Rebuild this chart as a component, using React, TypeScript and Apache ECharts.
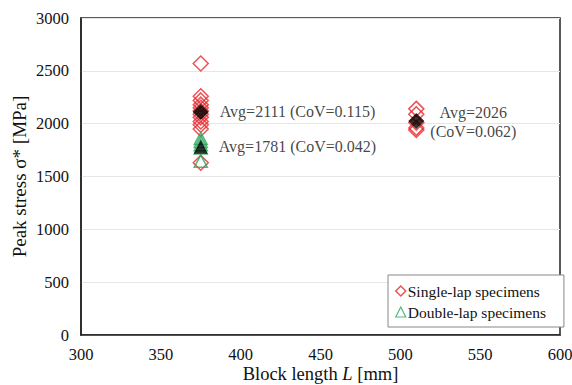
import React, { useEffect, useRef } from "react";
import * as echarts from "echarts";

const singleLapL375: number[] = [2570, 2260, 2220, 2180, 2150, 2120, 2090, 2060, 2020, 1990, 1950, 1630];
const singleLapL510: number[] = [2140, 2090, 2010, 1960, 1940];
const doubleLapL375: number[] = [1860, 1830, 1800, 1770, 1645];
const avgSingle375 = 2111;
const avgDouble375 = 1781;
const avgSingle510 = 2026;
const covSingle375 = "0.115";
const covDouble375 = "0.042";
const covSingle510 = "0.062";
const xTicks = [300, 350, 400, 450, 500, 550, 600];
const yTicks = [0, 500, 1000, 1500, 2000, 2500, 3000];

const FONT = "'Liberation Serif', 'Times New Roman', serif";
const RED = "#e8282c";
const GREEN = "#26a65b";

export default function App() {
  const ref = useRef<HTMLDivElement>(null);
  useEffect(() => {
    if (!ref.current) return;
    const chart = echarts.init(ref.current, undefined, { renderer: "svg" });
    const single = [
      ...singleLapL375.map((v) => [375, v]),
      ...singleLapL510.map((v) => [510, v]),
    ];
    const dbl = doubleLapL375.map((v) => [375, v]);
    const labelStyle = { fontFamily: FONT, fontSize: 16, color: "#111" };
    chart.setOption({
      animation: false,
      textStyle: { fontFamily: FONT },
      grid: {
        left: 81, right: 12, top: 18, bottom: 50,
        outerBoundsMode: "none",
        containLabel: false,
        show: true, borderColor: "#222", borderWidth: 1.5, backgroundColor: "#fff",
      },
      legend: {
        data: [
          { name: "Single-lap specimens", icon: "diamond", itemStyle: { color: "rgba(255,255,255,0)", borderColor: RED, borderWidth: 1.5 } },
          { name: "Double-lap specimens", icon: "triangle", itemStyle: { color: "rgba(255,255,255,0)", borderColor: GREEN, borderWidth: 1.2 } },
        ],
        orient: "vertical",
        left: 388, top: 275,
        backgroundColor: "#fff",
        borderColor: "#888", borderWidth: 1,
        padding: [8, 18, 7, 7],
        itemGap: 5,
        itemWidth: 10, itemHeight: 10,
        textStyle: { fontFamily: FONT, fontSize: 15.5, color: "#111", padding: [0, 0, 0, -3] },
      },
      xAxis: {
        type: "value",
        min: xTicks[0], max: xTicks[xTicks.length - 1], interval: 50,
        name: "Block length {i|L} [mm]",
        nameLocation: "middle", nameGap: 29, nameMoveOverlap: false,
        nameTextStyle: {
          fontFamily: FONT, fontSize: 18.5, color: "#111", lineHeight: 20,
          rich: { i: { fontFamily: FONT, fontSize: 18.5, fontStyle: "italic", color: "#111", lineHeight: 20 } },
        },
        axisLine: { lineStyle: { color: "#222", width: 1.5 } },
        axisTick: { show: false },
        splitLine: { show: false },
        axisLabel: { fontFamily: FONT, fontSize: 16.5, color: "#111", margin: 11 },
      },
      yAxis: {
        type: "value",
        min: yTicks[0], max: yTicks[yTicks.length - 1], interval: 500,
        name: "Peak stress σ* [MPa]",
        nameLocation: "middle", nameGap: 52, nameMoveOverlap: false,
        nameTextStyle: { fontFamily: FONT, fontSize: 19, color: "#111" },
        axisLine: { show: true, lineStyle: { color: "#222", width: 1.5 } },
        axisTick: { show: false },
        splitLine: { lineStyle: { color: "#e6e6e6", width: 1 } },
        axisLabel: { fontFamily: FONT, fontSize: 16.5, color: "#111", margin: 12, formatter: (v: number) => String(v) },
      },
      series: [
        {
          name: "Single-lap specimens",
          type: "scatter",
          data: single,
          symbol: "diamond",
          symbolSize: [15, 15],
          itemStyle: { color: "rgba(255,255,255,0)", borderColor: RED, borderWidth: 1.5 },
          z: 3,
        },
        {
          name: "Double-lap specimens",
          type: "scatter",
          data: dbl,
          symbol: "triangle",
          symbolSize: [13, 12],
          itemStyle: { color: "rgba(255,255,255,0)", borderColor: GREEN, borderWidth: 1.5 },
          z: 4,
        },
        {
          name: "avgS",
          type: "scatter",
          symbol: "diamond",
          symbolSize: 16,
          itemStyle: { color: "#000" },
          z: 5,
          data: [
            {
              value: [375, avgSingle375],
              label: {
                show: true, position: "right", distance: 11,
                formatter: `Avg=${avgSingle375} (CoV=${covSingle375})`, ...labelStyle,
              },
            },
            {
              value: [510, avgSingle510],
              label: {
                show: true, position: "inside", align: "center", offset: [57, 1], lineHeight: 19,
                formatter: `Avg=${avgSingle510}\n(CoV=${covSingle510})`, ...labelStyle,
              },
            },
          ],
        },
        {
          name: "avgD",
          type: "scatter",
          symbol: "triangle",
          symbolSize: [14, 14],
          itemStyle: { color: "#000" },
          z: 5,
          data: [
            {
              value: [375, avgDouble375],
              label: {
                show: true, position: "right", distance: 11,
                formatter: `Avg=${avgDouble375} (CoV=${covDouble375})`, ...labelStyle,
              },
            },
          ],
        },
      ],
    });
    return () => chart.dispose();
  }, []);
  return <div ref={ref} style={{ width: 572, height: 385, position: "absolute", left: 0, top: 0 }} />;
}
